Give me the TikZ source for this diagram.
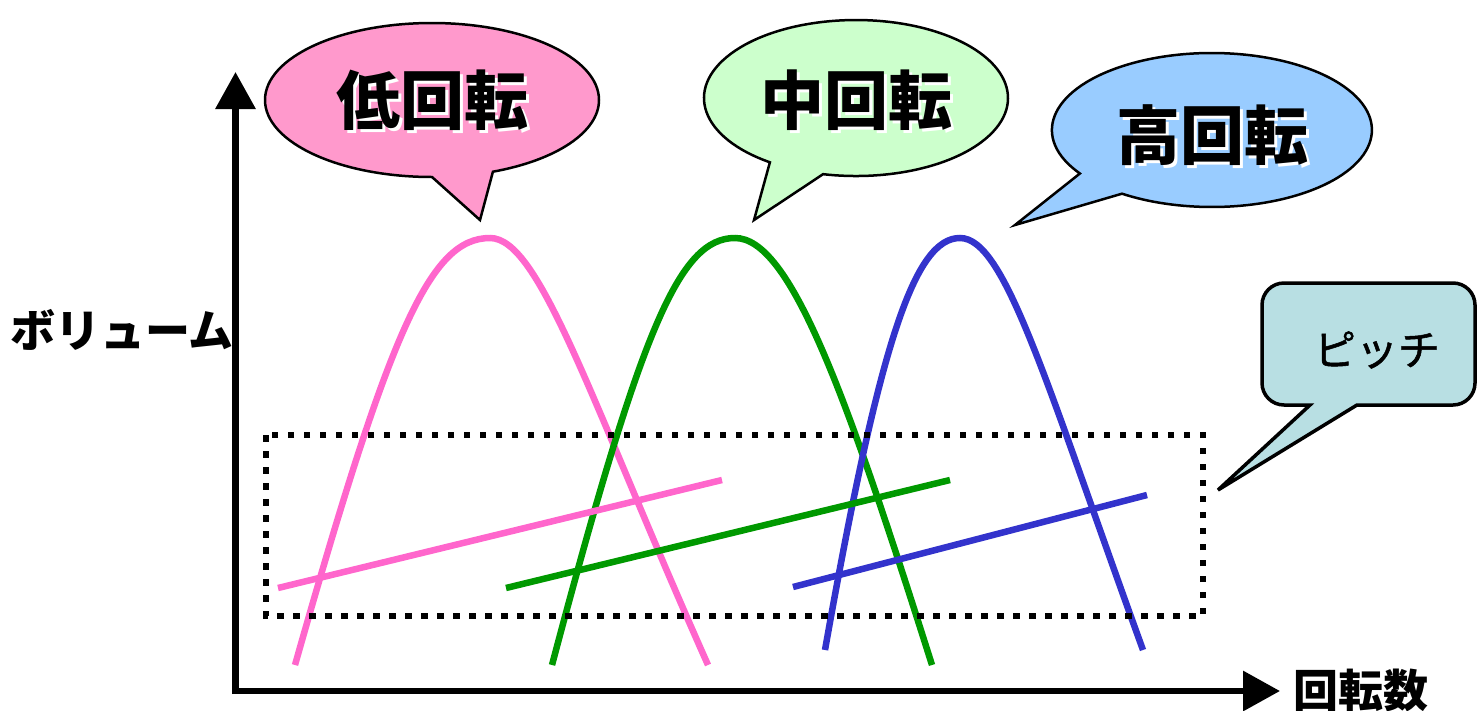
\documentclass[tikz,border=0pt]{standalone}
\usepackage{fontspec}
\newfontfamily\jp{Noto Sans CJK JP}
\newfontfamily\jpm[FakeBold=1.2]{Noto Sans CJK JP}
\usetikzlibrary{arrows.meta}
\definecolor{pinkfill}{RGB}{255,153,204}
\definecolor{greenfill}{RGB}{204,255,204}
\definecolor{bluefill}{RGB}{153,204,255}
\definecolor{pitchfill}{RGB}{184,223,227}
\definecolor{pinkline}{RGB}{255,102,204}
\definecolor{greenline}{RGB}{0,153,0}
\definecolor{blueline}{RGB}{51,51,204}
\begin{document}
\begin{tikzpicture}[x=1pt,y=-1pt,
  callout/.style={draw=black,line width=2.5pt,line join=miter},
  curve/.style={line width=6.5pt},
  axis/.style={line width=6.5pt,-{Triangle[length=37pt,width=39pt]}},
  bigtxt/.style={font=\jp\bfseries\fontsize{64}{64}\selectfont,inner sep=0pt},
  shadowtxt/.style={bigtxt,text=white},
  axistxt/.style={font=\jp\bfseries\fontsize{45}{45}\selectfont,inner sep=0pt},
  dotbox/.style={draw=black,line width=6.5pt,dash pattern=on 6.5pt off 9.5pt}]
\useasboundingbox (0,0) rectangle (1478,710);

% axes
\coordinate (origin) at (235.5,691);
\coordinate (ytop) at (235.5,72);
\coordinate (xend) at (1280,691);
\draw[axis] (235.5,694) -- (ytop);
\draw[axis] (232,691) -- (xend);
\node[axistxt] (ylab) at (122,330) {ボリューム};
\node[axistxt] (xlab) at (1361,690) {回転数};

% curves
\draw[curve,pinkline] (295,665) .. controls (390,330) and (430,238) .. (490,238)
  .. controls (540,238) and (590,400) .. (708,665);
\draw[curve,greenline] (552,665) .. controls (641,330) and (679,238) .. (735,238)
  .. controls (790,238) and (845,390) .. (932,665);
\draw[curve,blueline] (825,650) .. controls (880,340) and (915,238) .. (960,238)
  .. controls (1005,238) and (1045,380) .. (1143,650);

% pitch lines
\coordinate (p1) at (278,588); \coordinate (p2) at (722,480);
\coordinate (g1) at (506,588); \coordinate (g2) at (950,480);
\coordinate (b1) at (793,587); \coordinate (b2) at (1147,495);
\draw[curve,pinkline] (p1) -- (p2);
\draw[curve,greenline] (g1) -- (g2);
\draw[curve,blueline] (b1) -- (b2);

% dotted box
\draw[dotbox] (266,435) rectangle (1203,616);

% callouts
\path[callout,fill=pinkfill] (432,177) arc[start angle=90,end angle=428.6,x radius=167,y radius=77] -- (480,220) -- cycle;
\node[shadowtxt] (lowS) at (435,103) {低回転};
\node[bigtxt] (low) at (432,100) {低回転};

\path[callout,fill=greenfill] (769.9,162.3) arc[start angle=124.5,end angle=462.5,x radius=152,y radius=78] -- (754,220) -- cycle;
\node[shadowtxt] (midS) at (859,103) {中回転};
\node[bigtxt] (mid) at (856,100) {中回転};

\path[callout,fill=bluefill] (1079.9,173.5) arc[start angle=145.6,end angle=484.2,x radius=160,y radius=77] -- (1015,225) -- cycle;
\node[shadowtxt] (highS) at (1215,138) {高回転};
\node[bigtxt] (high) at (1212,135) {高回転};

\path[draw=black,line width=3.5pt,fill=pitchfill] (1218,490) -- (1357,405) [rounded corners=22pt] -- (1475,405) -- (1475,283) -- (1262,283) -- (1262,405) [sharp corners] -- (1310,405) -- cycle;
\node[font=\jpm\fontsize{42}{42}\selectfont,inner sep=0pt] (pitch) at (1377,350) {ピッチ};
\end{tikzpicture}
\end{document}
